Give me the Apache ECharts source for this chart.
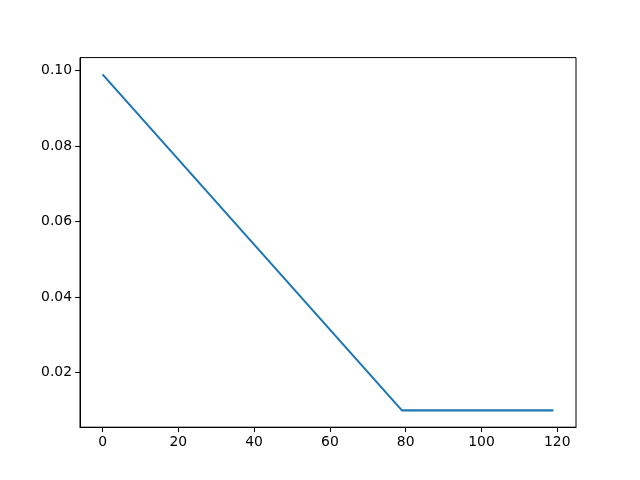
<!DOCTYPE html>
<html>
<head>
<meta charset="utf-8">
<script src="https://cdn.jsdelivr.net/npm/echarts@6/dist/echarts.min.js"></script>
<style>html,body{margin:0;padding:0;background:#fff;}#c{width:640px;height:480px;}</style>
</head>
<body>
<div id="c"></div>
<script>
// Data (breakpoints of the piecewise-linear curve)
const xValues = [0, 79, 119];
const yValues = [0.099, 0.01, 0.01];
const xTicks = [0, 20, 40, 60, 80, 100, 120];
const yTicks = [0.02, 0.04, 0.06, 0.08, 0.10];

const seriesData = xValues.map((x, i) => [x, yValues[i]]);
const chart = echarts.init(document.getElementById('c'), null, {renderer: 'canvas'});
const font = {fontFamily: 'DejaVu Sans', fontSize: 13.9, color: '#000'};
chart.setOption({
  animation: false,
  backgroundColor: '#fff',
  grid: {left: 80, right: 64, top: 57.6, bottom: 52.8, show: true, borderColor: '#000', borderWidth: 1, backgroundColor: 'transparent'},
  xAxis: {
    type: 'value', min: -5.95, max: 124.95,
    splitLine: {show: false},
    axisLine: {show: true, onZero: false, lineStyle: {color: '#000', width: 1}},
    axisTick: {show: true, length: 4.9, inside: false, lineStyle: {color: '#000', width: 1}, customValues: xTicks},
    axisLabel: Object.assign({margin: 8, customValues: xTicks, formatter: v => String(v)}, font)
  },
  yAxis: {
    type: 'value', min: 0.00555, max: 0.10345,
    splitLine: {show: false},
    axisLine: {show: true, onZero: false, lineStyle: {color: '#000', width: 1}},
    axisTick: {show: true, length: 4.9, inside: false, lineStyle: {color: '#000', width: 1}, customValues: yTicks},
    axisLabel: Object.assign({margin: 8, customValues: yTicks, formatter: v => v.toFixed(2)}, font)
  },
  series: [{
    type: 'line', data: seriesData, showSymbol: false, symbol: 'none',
    lineStyle: {color: '#1f77b4', width: 2.08}, itemStyle: {color: '#1f77b4'}
  }]
});
</script>
</body>
</html>
